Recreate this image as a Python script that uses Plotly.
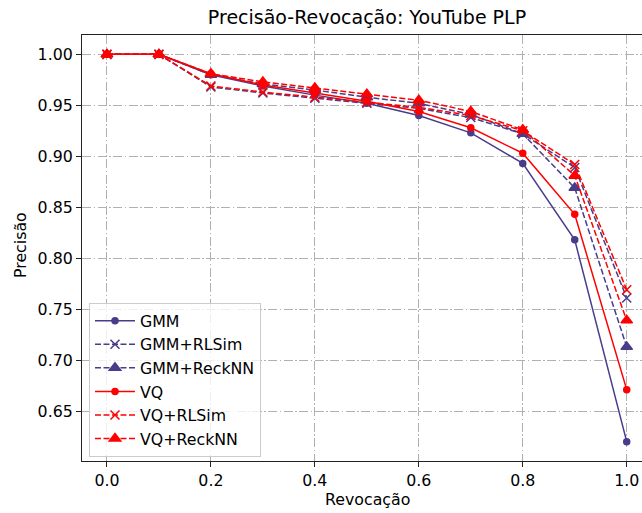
import plotly.graph_objects as go

recall = [0.0, 0.1, 0.2, 0.3, 0.4, 0.5, 0.6, 0.7, 0.8, 0.9, 1.0]

gmm = [1.0, 1.0, 0.980, 0.969, 0.960, 0.952, 0.940, 0.923, 0.893, 0.818, 0.620]
gmm_rlsim = [1.0, 1.0, 0.968, 0.962, 0.957, 0.952, 0.947, 0.938, 0.922, 0.889, 0.761]
gmm_recknn = [1.0, 1.0, 0.980, 0.971, 0.965, 0.958, 0.952, 0.941, 0.922, 0.869, 0.713]
vq = [1.0, 1.0, 0.981, 0.970, 0.962, 0.954, 0.944, 0.928, 0.903, 0.843, 0.671]
vq_rlsim = [1.0, 1.0, 0.969, 0.963, 0.958, 0.953, 0.948, 0.940, 0.925, 0.892, 0.769]
vq_recknn = [1.0, 1.0, 0.981, 0.973, 0.967, 0.961, 0.955, 0.944, 0.926, 0.881, 0.739]

x_ticks = [0.0, 0.2, 0.4, 0.6, 0.8, 1.0]
x_tick_labels = ["0.0", "0.2", "0.4", "0.6", "0.8", "1.0"]
y_ticks = [0.65, 0.70, 0.75, 0.80, 0.85, 0.90, 0.95, 1.00]
y_tick_labels = ["0.65", "0.70", "0.75", "0.80", "0.85", "0.90", "0.95", "1.00"]

BLUE = "#483D8B"
RED = "#FF0000"
DASH = "6px,2.5px"
FONT = "DejaVu Sans"
FS = 15.8

series = [
    ("GMM", gmm, BLUE, "solid", "circle", 6),
    ("GMM+RLSim", gmm_rlsim, BLUE, DASH, "x-thin", 9),
    ("GMM+ReckNN", gmm_recknn, BLUE, DASH, "triangle-up", 10),
    ("VQ", vq, RED, "solid", "circle", 6),
    ("VQ+RLSim", vq_rlsim, RED, DASH, "x-thin", 9),
    ("VQ+ReckNN", vq_recknn, RED, DASH, "triangle-up", 10),
]

fig = go.Figure()
for name, vals, color, dash, symbol, size in series:
    fig.add_trace(go.Scatter(
        x=recall, y=vals, name=name, mode="lines+markers",
        line=dict(color=color, width=1.5, dash=dash),
        marker=dict(symbol=symbol, size=size, color=color,
                    line=dict(color=color, width=1.5)),
    ))

fig.update_layout(
    width=642, height=513,
    margin=dict(l=82, r=0, t=35, b=52),
    paper_bgcolor="white", plot_bgcolor="white",
    font=dict(family=FONT, size=FS, color="black"),
    title=dict(text="Precisão-Revocação: YouTube PLP", x=367 / 642, xref="container",
               xanchor="center", y=1 - 17 / 513, yref="container", yanchor="middle",
               font=dict(family=FONT, size=19, color="black")),
    showlegend=True,
    legend=dict(x=7 / 560, y=(461 - 303) / 426, xanchor="left", yanchor="top",
                itemwidth=40,
                bgcolor="rgba(255,255,255,0.8)", bordercolor="#cccccc", borderwidth=1,
                font=dict(family=FONT, size=FS, color="black")),
)

fig.update_xaxes(
    range=[-0.048, 1.0294], tickvals=x_ticks, ticktext=x_tick_labels,
    showline=True, linecolor="#222222", linewidth=1.1, mirror=True,
    ticks="outside", ticklen=5, tickwidth=1.1, tickcolor="#222222",
    showgrid=True, gridcolor="#b0b0b0", gridwidth=1, griddash="9px,2.5px,1.5px,2.5px",
    zeroline=False,
)
fig.update_yaxes(
    range=[0.601, 1.019], tickvals=y_ticks, ticktext=y_tick_labels,
    showline=True, linecolor="#222222", linewidth=1.1, mirror=False,
    ticks="outside", ticklen=5, tickwidth=1.1, tickcolor="#222222",
    showgrid=True, gridcolor="#b0b0b0", gridwidth=1, griddash="9px,2.5px,1.5px,2.5px",
    zeroline=False,
)

fig.add_annotation(text="Revocação", xref="paper", yref="paper",
                   x=(367 - 82) / 560, y=-(499 - 461) / 426,
                   xanchor="center", yanchor="middle", showarrow=False,
                   font=dict(family=FONT, size=FS, color="black"))
fig.add_annotation(text="Precisão", xref="paper", yref="paper",
                   x=-(82 - 20) / 560, y=(461 - 245) / 426, textangle=-90,
                   xanchor="center", yanchor="middle", showarrow=False,
                   font=dict(family=FONT, size=FS, color="black"))

fig.write_html("out.html")
